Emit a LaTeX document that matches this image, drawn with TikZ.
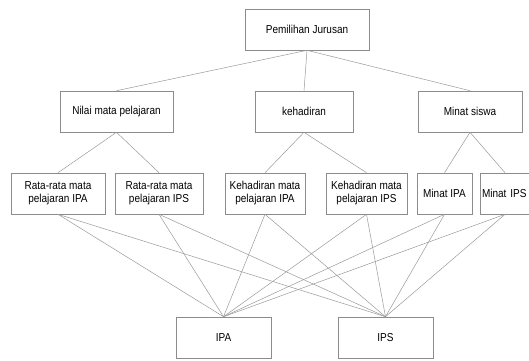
\documentclass[tikz,border=0pt]{standalone}
\usepackage{fontspec}
\setmainfont{Liberation Sans}[FakeStretch=0.87]
\begin{document}
\begin{tikzpicture}[x=1pt,y=-1pt,
  box/.style={draw=black!45, line width=0.6pt, fill=white, minimum height=41pt, inner sep=1pt, align=center, font=\fontsize{11.5}{13}\selectfont},
  link/.style={draw=black!40, line width=0.5pt}]
\useasboundingbox (0,0) rectangle (529,360);
\node[box, minimum width=124pt] (top) at (307,29.5) {Pemilihan Jurusan};
\node[box, minimum width=113pt] (nilai) at (116.5,111.5) {Nilai mata pelajaran};
\node[box, minimum width=98pt] (hadir) at (304,111.5) {kehadiran};
\node[box, minimum width=104pt] (minat) at (470,111.5) {Minat siswa};
\node[box, minimum width=94pt] (r1) at (58,193.5) {Rata-rata mata\\pelajaran IPA};
\node[box, minimum width=88pt] (r2) at (159,193.5) {Rata-rata mata\\pelajaran IPS};
\node[box, minimum width=80pt] (k1) at (265,193.5) {Kehadiran mata\\pelajaran IPA};
\node[box, minimum width=81pt] (k2) at (366.5,193.5) {Kehadiran mata\\pelajaran IPS};
\node[box, minimum width=55pt] (m1) at (444.5,193.5) {Minat IPA};
\node[box, minimum width=56pt, text width=54pt, align=left] (m2) at (508,193.5) {\hspace*{1pt}Minat IPS};
\node[box, minimum width=95pt] (ipa) at (223.5,337.5) {IPA};
\node[box, minimum width=95pt] (ips) at (385.5,337.5) {IPS};
\coordinate (m2b) at (505,214);
\foreach \c in {nilai,hadir,minat} \draw[link] (top.south) -- (\c.north);
\draw[link] (nilai.south) -- (r1.north);
\draw[link] (nilai.south) -- (r2.north);
\draw[link] (hadir.south) -- (k1.north);
\draw[link] (hadir.south) -- (k2.north);
\draw[link] (minat.south) -- (m1.north);
\draw[link] (minat.south) -- (m2.north -| m2b);
\foreach \c in {r1,r2,k1,k2,m1} {
  \draw[link] (\c.south) -- (ipa.north);
  \draw[link] (\c.south) -- (ips.north);
}
\draw[link] (m2.south -| m2b) -- (ipa.north);
\draw[link] (m2.south -| m2b) -- (ips.north);
\end{tikzpicture}
\end{document}
